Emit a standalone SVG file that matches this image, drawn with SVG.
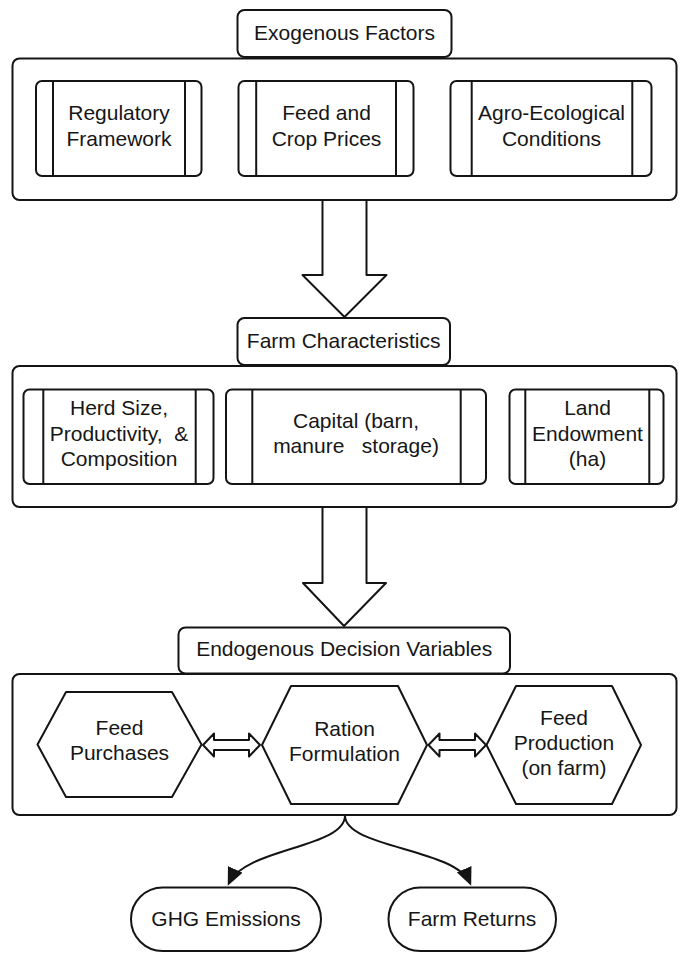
<svg xmlns="http://www.w3.org/2000/svg" width="681" height="956" viewBox="0 0 681 956">
<defs>
<style>
.bx{fill:#fff;stroke:#141414;stroke-width:2;stroke-linejoin:round}
.ln{stroke:#141414;stroke-width:2;fill:none}
.tx{font-family:"Liberation Sans",Arial,sans-serif;font-size:21px;fill:#161616;text-anchor:middle;white-space:pre}
.ar{fill:#fff;stroke:#141414;stroke-width:2;stroke-linejoin:round}
.cv{fill:none;stroke:#141414;stroke-width:2}
</style>
<marker id="head" markerUnits="userSpaceOnUse" markerWidth="18" markerHeight="16" viewBox="0 0 18 16" refX="15" refY="8" orient="auto">
<path d="M0,0 L18,8 L0,16 Z" fill="#141414"/>
</marker>
</defs>
<rect width="681" height="956" fill="#fff"/>

<g id="exogenous-container">
<rect class="bx" x="12.5" y="58.5" width="664" height="141.5" rx="7"/>
</g>
<g id="exogenous-title">
<rect class="bx" x="237.5" y="10" width="214" height="47" rx="7"/>
<text class="tx" x="344.5" y="40">Exogenous Factors</text>
</g>
<g id="regulatory">
<rect class="bx" x="36" y="81" width="165.5" height="95" rx="6"/>
<line class="ln" x1="53" y1="81" x2="53" y2="176"/>
<line class="ln" x1="185" y1="81" x2="185" y2="176"/>
<text class="tx" x="119" y="120">Regulatory</text>
<text class="tx" x="119" y="145.7">Framework</text>
</g>
<g id="prices">
<rect class="bx" x="238.5" y="81" width="175" height="95" rx="6"/>
<line class="ln" x1="256.2" y1="81" x2="256.2" y2="176"/>
<line class="ln" x1="396" y1="81" x2="396" y2="176"/>
<text class="tx" x="326.5" y="120">Feed and</text>
<text class="tx" x="326.5" y="145.7">Crop Prices</text>
</g>
<g id="agro">
<rect class="bx" x="450.5" y="81" width="201" height="95" rx="6"/>
<line class="ln" x1="471.7" y1="81" x2="471.7" y2="176"/>
<line class="ln" x1="632.3" y1="81" x2="632.3" y2="176"/>
<text class="tx" x="551.5" y="120">Agro-Ecological</text>
<text class="tx" x="551.5" y="145.7">Conditions</text>
</g>

<g id="farm-container">
<rect class="bx" x="12.5" y="366" width="664" height="141" rx="7"/>
</g>
<g id="farm-title">
<rect class="bx" x="237.5" y="318" width="212.5" height="47" rx="7"/>
<text class="tx" x="343.7" y="347.5">Farm Characteristics</text>
</g>
<g id="herd">
<rect class="bx" x="23.5" y="389.5" width="190" height="94.5" rx="6"/>
<line class="ln" x1="43.3" y1="389.5" x2="43.3" y2="484"/>
<line class="ln" x1="195.7" y1="389.5" x2="195.7" y2="484"/>
<text class="tx" x="119" y="415">Herd Size,</text>
<text class="tx" x="119" y="440.7">Productivity,  &amp;</text>
<text class="tx" x="119" y="466">Composition</text>
</g>
<g id="capital">
<rect class="bx" x="226" y="389.5" width="260" height="94.5" rx="6"/>
<line class="ln" x1="252.3" y1="389.5" x2="252.3" y2="484"/>
<line class="ln" x1="460.7" y1="389.5" x2="460.7" y2="484"/>
<text class="tx" x="356" y="427.7">Capital (barn,</text>
<text class="tx" x="356" y="453.3">manure   storage)</text>
</g>
<g id="land">
<rect class="bx" x="509.5" y="389.5" width="154" height="94.5" rx="6"/>
<line class="ln" x1="525.3" y1="389.5" x2="525.3" y2="484"/>
<line class="ln" x1="649.3" y1="389.5" x2="649.3" y2="484"/>
<text class="tx" x="587.5" y="415">Land</text>
<text class="tx" x="587.5" y="440.7">Endowment</text>
<text class="tx" x="587.5" y="466">(ha)</text>
</g>

<g id="endogenous-container">
<rect class="bx" x="12.5" y="674" width="664" height="141" rx="7"/>
</g>
<g id="endogenous-title">
<rect class="bx" x="178.5" y="627.5" width="331.5" height="46" rx="7"/>
<text class="tx" x="344.2" y="656">Endogenous Decision Variables</text>
</g>
<g id="feed-purchases">
<path class="bx" d="M37.5,744.5 L66,692 L172,692 L201.5,744.5 L172,797 L66,797 Z"/>
<text class="tx" x="119.5" y="735">Feed</text>
<text class="tx" x="119.5" y="760">Purchases</text>
</g>
<g id="ration">
<path class="bx" d="M262,745 L291,686 L398,686 L427,745 L398,804 L291,804 Z"/>
<text class="tx" x="344.5" y="736">Ration</text>
<text class="tx" x="344.5" y="761">Formulation</text>
</g>
<g id="feed-production">
<path class="bx" d="M486.5,745 L516,686 L612,686 L641,745 L612,804 L516,804 Z"/>
<text class="tx" x="564" y="725">Feed</text>
<text class="tx" x="564" y="750">Production</text>
<text class="tx" x="564" y="775">(on farm)</text>
</g>

<g id="ghg">
<rect class="bx" x="131" y="887.5" width="190" height="63.5" rx="31.75"/>
<text class="tx" x="226" y="926">GHG Emissions</text>
</g>
<g id="returns">
<rect class="bx" x="388.5" y="887.5" width="167.5" height="63.5" rx="31.75"/>
<text class="tx" x="472" y="926">Farm Returns</text>
</g>

<g id="connectors">
<path class="ar" d="M322.5,200 L366.5,200 L366.5,275 L386.5,275 L344.5,317 L302.5,275 L322.5,275 Z"/>
<path class="ar" d="M322.5,507 L366.5,507 L366.5,583 L386,583 L344,626 L303,583 L322.5,583 Z"/>
<path class="ar" d="M203,745 L214,733.5 L214,740 L249,740 L249,733.5 L260,745 L249,756.5 L249,750 L214,750 L214,756.5 Z"/>
<path class="ar" d="M428.5,745 L439.5,733.5 L439.5,740 L475,740 L475,733.5 L486,745 L475,756.5 L475,750 L439.5,750 L439.5,756.5 Z"/>
<path class="cv" d="M345,815.5 C345,848 245,848 229,883" marker-end="url(#head)"/>
<path class="cv" d="M345,815.5 C345,848 455,848 470,883" marker-end="url(#head)"/>
</g>
</svg>
